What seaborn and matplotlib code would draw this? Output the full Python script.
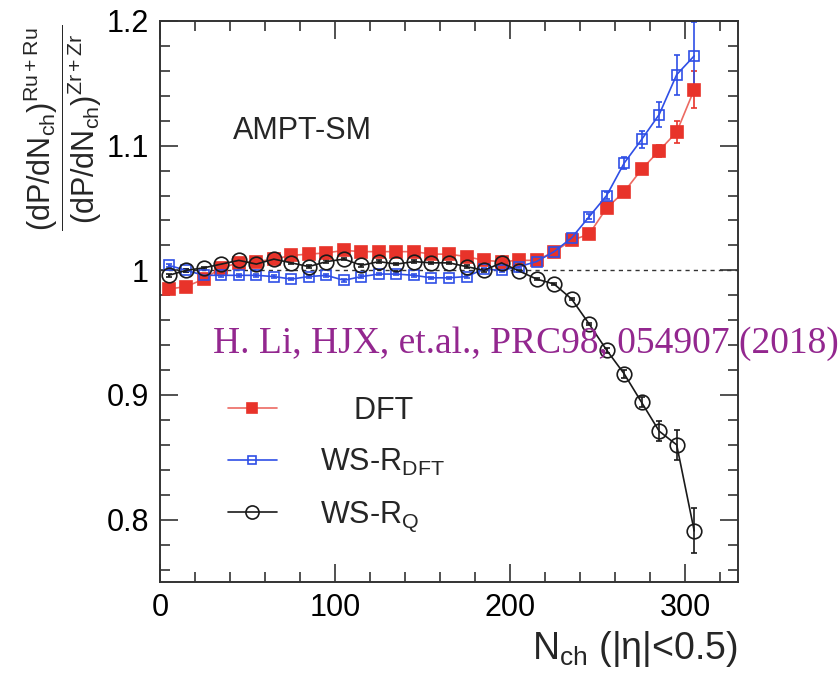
import numpy as np
import pandas as pd
import matplotlib
matplotlib.use("Agg")
import matplotlib.pyplot as plt
from matplotlib.ticker import MultipleLocator, FuncFormatter
import seaborn as sns

# ---- data ----
nch = [5, 15, 25, 35, 45, 55, 65, 75, 85, 95, 105, 115, 125, 135, 145, 155,
       165, 175, 185, 195, 205, 215, 225, 235, 245, 255, 265, 275, 285, 295, 305]

dft = [0.985, 0.987, 0.993, 1.002, 1.006, 1.007, 1.009, 1.012, 1.013, 1.014,
       1.016, 1.015, 1.015, 1.015, 1.015, 1.013, 1.013, 1.011, 1.008, 1.007,
       1.008, 1.008, 1.015, 1.024, 1.029, 1.050, 1.063, 1.081, 1.096, 1.111, 1.145]
dft_err = [0.001] * 25 + [0.002, 0.002, 0.003, 0.0047, 0.0087, 0.0147]

ws_dft = [1.004, 1.000, 0.996, 0.996, 0.996, 0.996, 0.995, 0.993, 0.995, 0.996,
          0.992, 0.995, 0.997, 0.997, 0.996, 0.994, 0.994, 0.995, 1.001, 1.000,
          1.003, 1.007, 1.015, 1.026, 1.043, 1.060, 1.086, 1.105, 1.125, 1.157, 1.172]
ws_dft_err = [0.001] * 24 + [0.002, 0.003, 0.005, 0.0067, 0.010, 0.016, 0.027]

ws_q = [0.996, 1.000, 1.002, 1.005, 1.008, 1.005, 1.009, 1.006, 1.003, 1.007,
        1.009, 1.004, 1.007, 1.005, 1.007, 1.006, 1.006, 1.003, 1.000, 1.006,
        0.9995, 0.993, 0.989, 0.977, 0.957, 0.936, 0.917, 0.894, 0.871, 0.860, 0.791]
ws_q_err = [0.001] * 25 + [0.002, 0.003, 0.004, 0.008, 0.012, 0.018]

labels = ["    DFT", r"WS-R$_{\mathrm{DFT}}$", r"WS-R$_{\mathrm{Q}}$"]
x_ticks = [0, 100, 200, 300]
y_ticks = [0.8, 0.9, 1.0, 1.1, 1.2]

# ---- style ----
sns.set_theme(style="ticks")
plt.rcParams["font.family"] = ["Liberation Sans", "DejaVu Sans"]
plt.rcParams["mathtext.fontset"] = "custom"
plt.rcParams["mathtext.rm"] = "Liberation Sans"
plt.rcParams["mathtext.it"] = "Liberation Sans"
plt.rcParams["mathtext.bf"] = "Liberation Sans:bold"

fig = plt.figure(figsize=(8.38, 6.76), dpi=100)
ax = fig.add_axes([160 / 838, 1 - 582 / 676, 578 / 838, 561 / 676])

red = "#e8332a"
red_line = "#ec6a62"
blue = "#2f4fe6"
black = "#1a1a1a"

ax.axhline(1.0, color="#333333", lw=1.0, ls=(0, (3, 3)), zorder=1)

series = [
    (dft, dft_err, labels[0], red, red_line, "s", red, 9),
    (ws_dft, ws_dft_err, labels[1], blue, blue, "s", "none", 6.5),
    (ws_q, ws_q_err, labels[2], black, black, "o", "none", 10.5),
]
handles = []
for vals, errs, lab, mcol, lcol, mk, fc, ms in series:
    df = pd.DataFrame({"x": nch, "y": vals})
    ax.errorbar(nch, vals, yerr=errs, fmt="none", ecolor=mcol, elinewidth=1.2,
                capsize=2.5, capthick=1.2, zorder=2)
    sns.lineplot(data=df, x="x", y="y", ax=ax, color=lcol, lw=1.2,
                 marker=mk, markersize=ms, markerfacecolor=fc,
                 markeredgecolor=mcol, markeredgewidth=1.2, label=lab,
                 zorder=3, legend=False)
    handles.append(plt.Line2D([], [], color=lcol, lw=1.2, marker=mk,
                              markersize=ms * 0.85 if fc != "none" else ms * 0.9,
                              markerfacecolor=fc, markeredgecolor=mcol,
                              markeredgewidth=1.2, label=lab))

ax.set_xlim(0, 330)
ax.set_ylim(0.75, 1.2)
ax.set_xticks(x_ticks)
ax.set_yticks(y_ticks)
ax.xaxis.set_minor_locator(MultipleLocator(20))
ax.yaxis.set_minor_locator(MultipleLocator(0.02))
ax.yaxis.set_major_formatter(FuncFormatter(lambda v, p: f"{v:g}"))
ax.tick_params(which="both", direction="in", top=True, right=True,
               colors="#333333", labelcolor="black", labelsize=22, width=1.2)
ax.tick_params(which="major", length=13, pad=8)
ax.tick_params(which="minor", length=7)
for s in ax.spines.values():
    s.set_linewidth(1.4)
    s.set_color("#333333")

ax.set_xlabel(r"N$_{\mathrm{ch}}$ (|$\eta$|<0.5)", fontsize=27, loc="right",
              labelpad=4)
ax.set_ylabel(r"$\dfrac{(\mathrm{dP/dN}_{\mathrm{ch}})^{\mathrm{Ru+Ru}}}"
              r"{(\mathrm{dP/dN}_{\mathrm{ch}})^{\mathrm{Zr+Zr}}}$", fontsize=22)
ax.yaxis.set_label_coords(-0.097, 0.81)

ax.text(233 / 838, 1 - 131 / 676, "AMPT-SM", transform=fig.transFigure,
        fontsize=22, va="center", ha="left")

fig.text(213 / 838, 1 - 344 / 676, "H. Li, HJX, et.al., PRC98, 054907 (2018)",
         fontsize=27, color="#93278f", family="Liberation Serif",
         va="center", ha="left", zorder=10)

ax.legend(handles=handles, loc="upper left",
          bbox_to_anchor=(228 / 838, 1 - 396 / 676),
          bbox_transform=fig.transFigure, frameon=False, fontsize=22,
          handlelength=1.6, handletextpad=1.4, labelspacing=0.68,
          borderpad=0, borderaxespad=0)

fig.savefig("out.png", dpi=100)
